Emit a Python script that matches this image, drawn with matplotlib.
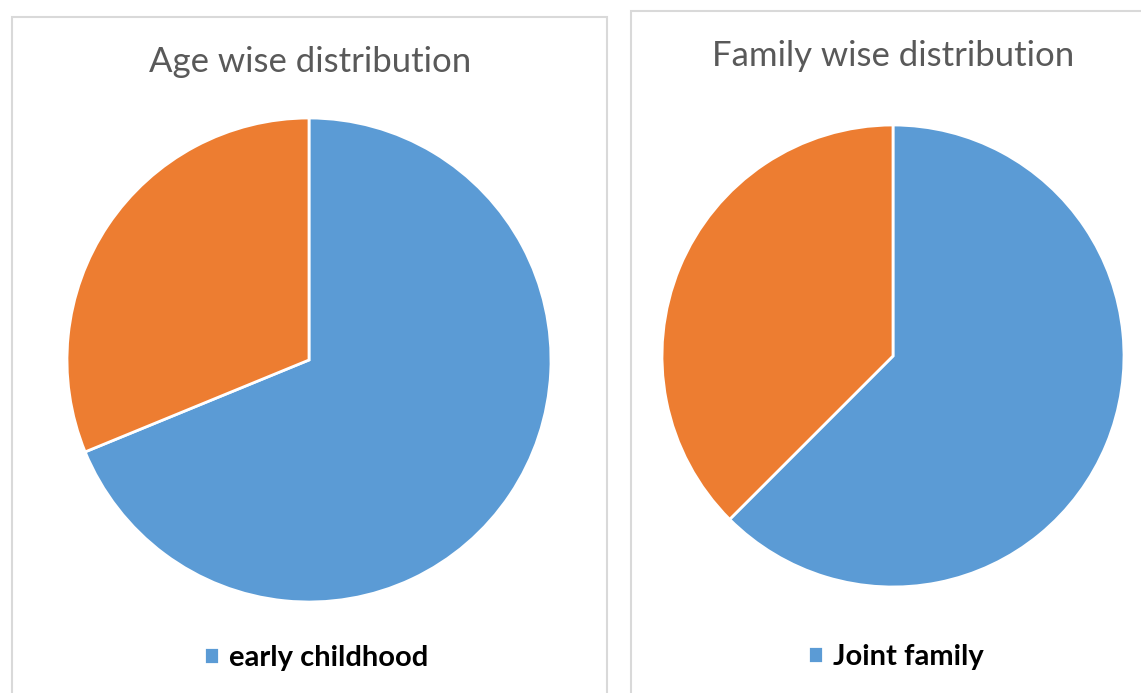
import matplotlib
matplotlib.use('Agg')
import matplotlib.pyplot as plt
from matplotlib.patches import Rectangle

age_labels = ['early childhood', 'later childhood']
age_values = [68.8, 31.2]
family_labels = ['Joint family', 'Nuclear family']
family_values = [62.5, 37.5]
colors = ['#5B9BD5', '#ED7D31']

W, H = 1141, 693
fig = plt.figure(figsize=(W / 100, H / 100), dpi=100)
plt.rcParams['font.family'] = ['Lato', 'DejaVu Sans']


def px(x0, y0, w, h):
    # pixel box (top-left origin) -> figure fraction
    return [x0 / W, (H - y0 - h) / H, w / W, h / H]


# chart borders
for x0, y0, x1, y1 in [(12, 17, 607, 700), (631, 11, 1150, 700)]:
    fig.patches.append(Rectangle((x0 / W, (H - y1) / H), (x1 - x0) / W, (y1 - y0) / H,
                                 transform=fig.transFigure, fill=False,
                                 edgecolor='#d9d9d9', linewidth=1.5))


def draw_pie(box, values, labels, title, title_xy, legend_xy):
    ax = fig.add_axes(px(*box))
    wedges, _ = ax.pie(values, colors=colors, startangle=90, counterclock=False,
                       wedgeprops=dict(edgecolor='white', linewidth=2))
    ax.set_xlim(-1, 1)
    ax.set_ylim(-1, 1)
    ax.set_aspect('auto')
    fig.text(title_xy[0] / W, 1 - title_xy[1] / H, title, ha='center', va='center',
             fontsize=25, color='#595959')
    fig.legend([wedges[0]], [labels[0]], loc='center',
               bbox_to_anchor=(legend_xy[0] / W, 1 - legend_xy[1] / H),
               frameon=False, handlelength=0.5, handleheight=0.5, handletextpad=0.35,
               prop=dict(size=21, weight='bold'))


draw_pie((67, 118, 484, 484), age_values, age_labels, 'Age wise distribution', (310, 62), (316, 658))
draw_pie((662, 125, 462, 462), family_values, family_labels, 'Family wise distribution', (893, 56), (896, 657))

fig.savefig('out.png', dpi=100)
